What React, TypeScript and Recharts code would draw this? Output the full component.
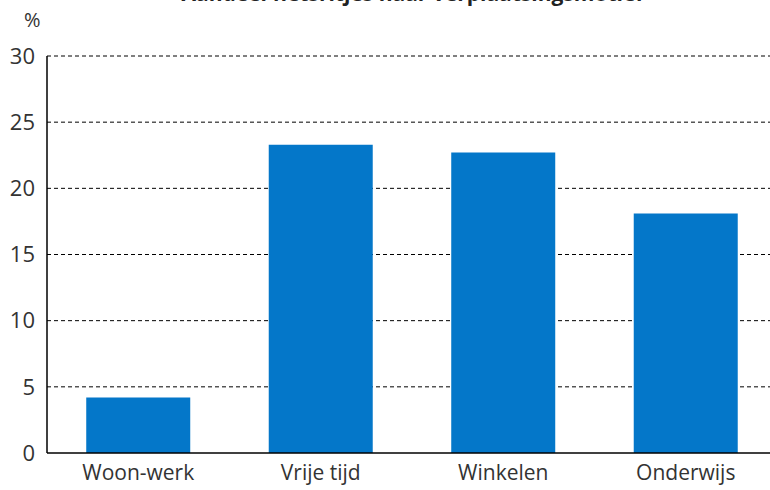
import React from "react";
import { BarChart, Bar, XAxis, YAxis, CartesianGrid } from "recharts";

const categories = ["Woon-werk", "Vrije tijd", "Winkelen", "Onderwijs"];
const values = [4.2, 23.3, 22.7, 18.1];
const yTicks = [0, 5, 10, 15, 20, 25, 30];
const title = "Aandeel fietsritjes naar verplaatsingsmotief";
const unit = "%";

const data = categories.map((c, i) => ({ name: c, value: values[i] }));

const FONT = "'Open Sans', 'DejaVu Sans', sans-serif";

export default function App() {
  return (
    <div
      style={{
        position: "fixed",
        left: 0,
        top: 0,
        width: 770,
        height: 490,
        overflow: "hidden",
        background: "#fff",
        fontFamily: FONT,
      }}
    >
      <div
        style={{
          position: "absolute",
          left: 0,
          width: 825,
          top: -17,
          fontSize: 21,
          lineHeight: "21px",
          fontWeight: 700,
          color: "#222",
          textAlign: "center",
          whiteSpace: "nowrap",
        }}
      >
        {title}
      </div>
      <div
        style={{
          position: "absolute",
          left: 24,
          top: 8,
          fontSize: 20,
          lineHeight: "24px",
          color: "#333",
        }}
      >
        {unit}
      </div>
      <BarChart
        width={800}
        height={490}
        data={data}
        margin={{ top: 56, right: 23, bottom: 0, left: 0 }}
        barCategoryGap="21.5%"
      >
        <CartesianGrid
          horizontal={true}
          vertical={false}
          stroke="#000"
          strokeDasharray="4 3"
          strokeWidth={1}
          horizontalValues={[5, 10, 15, 20, 25, 30]}
        />
        <XAxis
          dataKey="name"
          height={37}
          axisLine={{ stroke: "#000", strokeWidth: 1.5 }}
          tickLine={false}
          tickSize={0}
          tickMargin={12}
          tick={{ fill: "#333", fontSize: 21, fontFamily: FONT }}
          interval={0}
        />
        <YAxis
          width={47}
          domain={[0, 30]}
          ticks={yTicks}
          allowDataOverflow
          axisLine={{ stroke: "#000", strokeWidth: 1.5 }}
          tickLine={false}
          tickSize={0}
          tickMargin={12}
          tick={{ fill: "#333", fontSize: 22, fontFamily: FONT }}
        />
        <Bar dataKey="value" fill="#0477C9" isAnimationActive={false} />
      </BarChart>
    </div>
  );
}
